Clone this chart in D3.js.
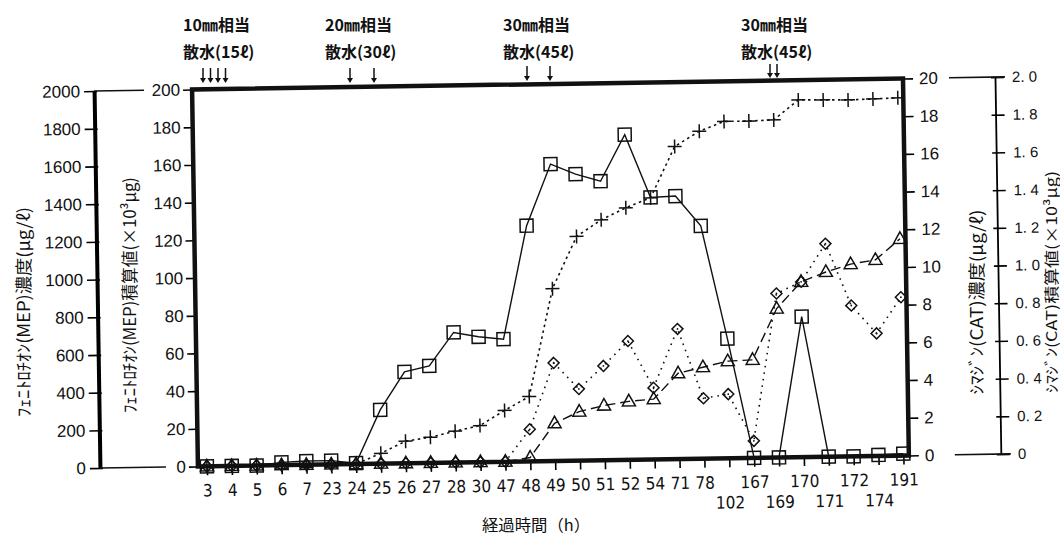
<!DOCTYPE html>
<html><head><meta charset="utf-8">
<script src="https://cdn.jsdelivr.net/npm/d3@7"></script>
<style>body{margin:0;background:#fff}svg{display:block}</style>
</head><body>
<svg id="chart" width="1060" height="536"></svg>
<script>
// ---------- data ----------
const categories = ["3","4","5","6","7","23","24","25","26","27","28","30","47","48","49","50","51","52","54","71","78","102","167","169","170","171","172","174","191"];
const lowerLabels = ["102","169","171","174"];
// フェニトロチオン(MEP) 濃度 μg/ℓ  (squares, 0–2000 axis)
const mepConc = [0,0,0,15,20,20,5,285,485,515,690,665,650,1250,1575,1520,1480,1725,1390,1395,1235,635,0,0,745,0,0,5,10];
// フェニトロチオン(MEP) 積算値 ×10³μg  (plus, 0–200 axis)
const mepCum = [0,0,0,0,0,0,0,5.5,11.7,13.6,16.6,19.4,27.2,34.4,91.4,118.9,127.5,133.7,138.8,165.8,173.7,178.7,178.7,179.1,189.5,189.3,189.1,189.4,189.8];
// シマジン(CAT) 濃度 μg/ℓ  (diamonds, 0–20 axis)
const catConc = [0,0,0,0,0,0,0,0,0,0,0,0,0,1.7,5.2,3.8,5.0,6.3,3.8,6.9,3.2,3.4,0.9,8.7,9.3,11.3,8.0,6.5,8.4];
// シマジン(CAT) 積算値 ×10³μg  (triangles, 0–2.0 axis)
const catCum = [0,0,0,0,0,0,0,0,0,0,0,0,0,0.02,0.20,0.26,0.29,0.31,0.32,0.455,0.485,0.515,0.52,0.79,0.93,0.98,1.02,1.04,1.15];

const mepConcTicks = d3.range(0, 2001, 200);
const mepCumTicks = d3.range(0, 201, 20);
const catConcTicks = d3.range(0, 21, 2);
const catCumTicks = [0,0.2,0.4,0.6,0.8,1.0,1.2,1.4,1.6,1.8,2.0];

const annMM = ["10㎜相当","20㎜相当","30㎜相当","30㎜相当"];
const annWater = ["散水(15ℓ)","散水(30ℓ)","散水(45ℓ)","散水(45ℓ)"];
const titleMepConc = "ﾌｪﾆﾄﾛﾁｵﾝ(MEP)濃度(μg/ℓ)";
const titleMepCum = "ﾌｪﾆﾄﾛﾁｵﾝ(MEP)積算値(×10³μg)";
const titleCatConc = "ｼﾏｼﾞﾝ(CAT)濃度(μg/ℓ)";
const titleCatCum = "ｼﾏｼﾞﾝ(CAT)積算値(×10³μg)";
const titleX = "経過時間（h）";

// ---------- drawing ----------
const svg = d3.select("#chart");
const NUM = "'Liberation Sans Narrow','DejaVu Sans Condensed','Liberation Sans',sans-serif";
const NUM2 = "'Liberation Sans','DejaVu Sans',sans-serif";
const JP = "'Noto Sans CJK JP','Noto Sans',sans-serif";

const L = 195, R = 906, T = 84, B = 461;
const x = d3.scalePoint().domain(categories).range([204, 900.5]);
const yMC = d3.scaleLinear().domain([0,2000]).range([B,T]);
const yMS = d3.scaleLinear().domain([0,200]).range([B,T]);
const yCC = d3.scaleLinear().domain([0,20]).range([B,T]);
const yCS = d3.scaleLinear().domain([0,2]).range([B,T]);

const g = svg.append("g").attr("transform","rotate(-0.89 550 275)");

// outer left axis (MEP conc)
const axOL = g.append("g").attr("transform",`translate(97,0)`)
  .call(d3.axisLeft(yMC).tickValues(mepConcTicks).tickFormat(d3.format("d")).tickSize(10).tickPadding(4).tickSizeOuter(0));
axOL.select(".domain").attr("stroke-width",4);
axOL.selectAll(".tick line").attr("stroke-width",1.6).attr("x2",-10).attr("x1",3);
axOL.selectAll(".tick text").attr("font-family",NUM2).attr("font-size",17).attr("fill","#111");
g.append("line").attr("x1",97).attr("x2",147).attr("y1",T).attr("y2",T).attr("stroke","#111").attr("stroke-width",1.6);
g.append("line").attr("x1",97).attr("x2",163).attr("y1",B).attr("y2",B).attr("stroke","#111").attr("stroke-width",1.6);

// inner left axis (MEP cumulative)
const axIL = g.append("g").attr("transform",`translate(${L},0)`)
  .call(d3.axisLeft(yMS).tickValues(mepCumTicks).tickSize(9).tickPadding(3).tickSizeOuter(0));
axIL.select(".domain").remove();
axIL.selectAll(".tick line").attr("stroke-width",1.6);
axIL.selectAll(".tick text").attr("font-family",NUM2).attr("font-size",17).attr("fill","#111");

// inner right axis (CAT conc)
const axIR = g.append("g").attr("transform",`translate(${R},0)`)
  .call(d3.axisRight(yCC).tickValues(catConcTicks).tickSize(10).tickPadding(6).tickSizeOuter(0));
axIR.select(".domain").remove();
axIR.selectAll(".tick line").attr("stroke-width",1.6);
axIR.selectAll(".tick text").attr("font-family",NUM2).attr("font-size",17).attr("fill","#111");

// outer right axis (CAT cumulative)
const fmtR = d => d === 0 ? "0" : d.toFixed(1).replace(".", ". ");
const axOR = g.append("g").attr("transform",`translate(998,0)`)
  .call(d3.axisRight(yCS).tickValues(catCumTicks).tickFormat(fmtR).tickSize(9).tickPadding(8).tickSizeOuter(0));
axOR.select(".domain").attr("stroke-width",1.8);
axOR.selectAll(".tick line").attr("stroke-width",1.6).attr("x1",-4);
axOR.selectAll(".tick text").attr("font-family",NUM2).attr("font-size",15).attr("fill","#111");
g.append("line").attr("x1",952).attr("x2",1008).attr("y1",T).attr("y2",T).attr("stroke","#111").attr("stroke-width",1.6);
g.append("line").attr("x1",952).attr("x2",1008).attr("y1",B).attr("y2",B).attr("stroke","#111").attr("stroke-width",1.6);

// bottom axis
const axB = g.append("g").attr("transform",`translate(0,${B})`)
  .call(d3.axisBottom(x).tickSize(9).tickPadding(9).tickSizeOuter(0));
axB.select(".domain").remove();
axB.selectAll(".tick line").attr("stroke-width",1.6);
axB.selectAll(".tick text").attr("font-family",NUM).attr("font-size",17).attr("fill","#111")
  .attr("dy", d => lowerLabels.includes(d) ? "1.9em" : "0.71em");

// frame
g.append("rect").attr("x",L).attr("y",T).attr("width",R-L).attr("height",B-T)
  .attr("fill","none").attr("stroke","#111").attr("stroke-width",4.5);

// series
function series(vals, yS, dash, w){
  const line = d3.line().x((d,i)=>x(categories[i])).y(d=>yS(d));
  g.append("path").datum(vals).attr("d",line).attr("fill","none").attr("stroke","#111")
    .attr("stroke-width",w).attr("stroke-dasharray",dash);
}
series(mepConc, yMC, null, 1.4);
series(mepCum, yMS, "2.5,3.5", 1.6);
series(catConc, yCC, "1.6,5", 1.6);
series(catCum, yCS, "10,5", 1.4);

const mk = g.append("g").attr("fill","none").attr("stroke","#111").attr("stroke-width",1.5);
// squares
mk.selectAll(".sq").data(mepConc).join("rect").attr("class","sq")
  .attr("x",(d,i)=>x(categories[i])-6.5).attr("y",d=>yMC(d)-6.5).attr("width",13).attr("height",13);
// plus
mk.selectAll(".pl").data(mepCum).join("path").attr("class","pl")
  .attr("transform",(d,i)=>`translate(${x(categories[i])},${yMS(d)})`).attr("d","M-7,0H7M0,-7V7");
// diamonds
mk.selectAll(".dm").data(catConc).join("path").attr("class","dm")
  .attr("transform",(d,i)=>`translate(${x(categories[i])},${yCC(d)})`).attr("d","M0,-5.5L5.5,0L0,5.5L-5.5,0Z");
mk.selectAll(".dd").data(catConc).join("circle").attr("class","dd")
  .attr("cx",(d,i)=>x(categories[i])).attr("cy",d=>yCC(d)).attr("r",0.9).attr("fill","#111").attr("stroke","none");
// triangles
mk.selectAll(".tr").data(catCum).join("path").attr("class","tr")
  .attr("transform",(d,i)=>`translate(${x(categories[i])},${yCS(d)})`).attr("d","M0,-7L6.5,4.5L-6.5,4.5Z");

// axis titles
function vtitle(txt, cx, cy, len, fs){
  svg.append("text").attr("transform",`translate(${cx},${cy}) rotate(-90)`)
    .attr("text-anchor","middle").attr("dominant-baseline","central")
    .attr("font-family",JP).attr("font-size",fs).attr("fill","#111")
    .attr("textLength",len).attr("lengthAdjust","spacingAndGlyphs").text(txt);
}
vtitle(titleMepConc, 22, 312, 210, 17);
vtitle(titleMepCum, 128, 295, 236, 17);
vtitle(titleCatConc, 975, 302, 185, 17);
vtitle(titleCatCum, 1050, 282, 222, 15);

svg.append("text").attr("x",536).attr("y",531).attr("text-anchor","middle")
  .attr("font-family",JP).attr("font-size",16).attr("fill","#111")
  .attr("textLength",108).attr("lengthAdjust","spacingAndGlyphs").text(titleX);

// annotations
const annX = [183, 325, 503, 741];
const arrowX = [[203,210.5,218,225.5],[350,374],[527,550],[770,777]];
const arrowTop = [68,68,66,64], arrowBot = [83,83,81,78];
annMM.forEach((t,i)=>{
  svg.append("text").attr("x",annX[i]).attr("y",31).attr("font-family",JP).attr("font-weight","bold")
    .attr("font-size",16).attr("fill","#111").text(t);
  svg.append("text").attr("x",annX[i]).attr("y",58).attr("font-family",JP).attr("font-weight","bold")
    .attr("font-size",16).attr("fill","#111").text(annWater[i]);
  arrowX[i].forEach(ax=>{
    svg.append("line").attr("x1",ax).attr("x2",ax).attr("y1",arrowTop[i]).attr("y2",arrowBot[i]-2)
      .attr("stroke","#111").attr("stroke-width",1.5);
    svg.append("path").attr("d",`M${ax-3},${arrowBot[i]-5}L${ax+3},${arrowBot[i]-5}L${ax},${arrowBot[i]}Z`).attr("fill","#111");
  });
});
</script>
</body></html>
